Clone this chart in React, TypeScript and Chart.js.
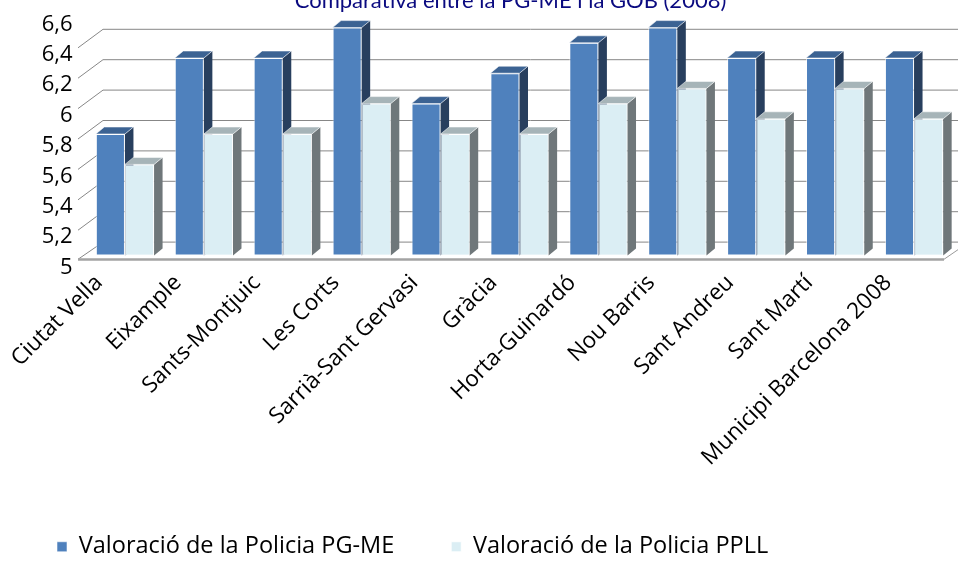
import React, { useEffect, useRef } from 'react';
import { Chart, registerables } from 'chart.js';
Chart.register(...registerables);

const chartTitle = 'Comparativa entre la PG-ME i la GOB (2008)';
const categories = [
  'Ciutat Vella',
  'Eixample',
  'Sants-Montjuic',
  'Les Corts',
  'Sarrià-Sant Gervasi',
  'Gràcia',
  'Horta-Guinardó',
  'Nou Barris',
  'Sant Andreu',
  'Sant Martí',
  'Municipi Barcelona 2008',
];
const seriesNames = ['Valoració de la Policia PG-ME', 'Valoració de la Policia PPLL'];
const pgmeValues = [5.8, 6.3, 6.3, 6.5, 6.0, 6.2, 6.4, 6.5, 6.3, 6.3, 6.3];
const ppllValues = [5.6, 5.8, 5.8, 6.0, 5.8, 5.8, 6.0, 6.1, 5.9, 6.1, 5.9];
const yMin = 5;
const yMax = 6.6;
const yStep = 0.2;
const gridValues = [5.0, 5.2, 5.4, 5.6, 5.8, 6.0, 6.2, 6.4];

const FONT = '"Open Sans", Lato, sans-serif';
const TITLE_FONT = 'Lato, "Open Sans", sans-serif';
const DX = 8.5;
const DY = -7;

const faceColors = [
  { side: '#283F5E', top: '#3C6393' },
  { side: '#6F777A', top: '#A6B4B8' },
];

function drawFaces(ctx: CanvasRenderingContext2D, el: any, colors: { side: string; top: string }, floorY: number) {
  const p = el.getProps(['x', 'y', 'base', 'width'], true);
  const left = p.x - p.width / 2;
  const right = p.x + p.width / 2;
  const top = p.y;
  const bottom = Math.min(p.base, floorY);
  ctx.save();
  ctx.strokeStyle = 'rgba(255,255,255,0.55)';
  ctx.lineWidth = 1;
  ctx.beginPath();
  ctx.moveTo(right, top);
  ctx.lineTo(right + DX, top + DY);
  ctx.lineTo(right + DX, bottom + DY);
  ctx.lineTo(right, bottom);
  ctx.closePath();
  ctx.fillStyle = colors.side;
  ctx.fill();
  ctx.beginPath();
  ctx.moveTo(left, top);
  ctx.lineTo(right, top);
  ctx.lineTo(right + DX, top + DY);
  ctx.lineTo(left + DX, top + DY);
  ctx.closePath();
  ctx.fillStyle = colors.top;
  ctx.fill();
  ctx.stroke();
  ctx.restore();
}

const wallsPlugin = {
  id: 'walls3d',
  beforeDatasetsDraw(chart: any) {
    const { ctx, chartArea } = chart;
    const y = chart.scales.y;
    const frontX = chartArea.left - 7.5;
    const backX = chartArea.left + 17.5;
    const rightX = chart.width;
    ctx.save();
    ctx.strokeStyle = '#878787';
    ctx.lineWidth = 1;
    gridValues.forEach((v) => {
      const py = y.getPixelForValue(v);
      const back = py - 13.5;
      ctx.beginPath();
      ctx.moveTo(backX, back);
      ctx.lineTo(rightX, back);
      ctx.stroke();
      ctx.beginPath();
      ctx.moveTo(frontX, v === yMin ? py + 3.7 : py + 5);
      ctx.lineTo(backX, back);
      ctx.stroke();
    });
    const f = y.getPixelForValue(yMin);
    const floorRight = chartArea.right - 9.5;
    ctx.strokeStyle = '#A3A3A3';
    ctx.lineWidth = 2.4;
    ctx.beginPath();
    ctx.moveTo(frontX, f + 3.9);
    ctx.lineTo(floorRight, f + 3.9);
    ctx.stroke();
    ctx.lineWidth = 1;
    ctx.strokeStyle = '#9A9A9A';
    ctx.beginPath();
    ctx.moveTo(floorRight, f + 3.7);
    ctx.lineTo(floorRight + 25, f - 13.5);
    ctx.stroke();
    ctx.restore();
  },
  afterDatasetsDraw(chart: any) {
    const ctx = chart.ctx;
    const floorY = chart.scales.y.getPixelForValue(yMin);
    const m0 = chart.getDatasetMeta(0);
    const m1 = chart.getDatasetMeta(1);
    for (let i = 0; i < categories.length; i++) {
      drawFaces(ctx, m0.data[i], faceColors[0], floorY);
      m1.data[i].draw(ctx);
      drawFaces(ctx, m1.data[i], faceColors[1], floorY);
    }
  },
  afterDraw(chart: any) {
    const ctx = chart.ctx;
    ctx.save();
    ctx.font = `22px ${TITLE_FONT}`;
    ctx.fillStyle = '#0A0A80';
    ctx.textAlign = 'center';
    ctx.textBaseline = 'alphabetic';
    ctx.fillText(chartTitle, 510.5, 8);
    ctx.restore();
  },
};

function fmt(v: number) {
  return String(Number(Number(v).toFixed(1))).replace('.', ',');
}

export default function App() {
  const ref = useRef<HTMLCanvasElement>(null);
  useEffect(() => {
    if (!ref.current) return;
    const chart = new Chart(ref.current, {
      type: 'bar',
      data: {
        labels: categories,
        datasets: [
          {
            label: seriesNames[0],
            data: pgmeValues,
            base: yMin,
            backgroundColor: '#4F81BD',
            borderColor: 'rgba(255,255,255,0.55)',
            borderWidth: 1,
            borderSkipped: false,
            categoryPercentage: 0.738,
            barPercentage: 1,
          },
          {
            label: seriesNames[1],
            data: ppllValues,
            base: yMin,
            backgroundColor: '#DBEEF4',
            borderColor: 'rgba(255,255,255,0.8)',
            borderWidth: 1,
            borderSkipped: false,
            categoryPercentage: 0.738,
            barPercentage: 1,
          },
        ],
      },
      options: {
        responsive: false,
        animation: false,
        devicePixelRatio: 1,
        layout: { padding: { top: 12.4, right: 4.5, left: 0, bottom: -1.5 } },
        plugins: {
          title: { display: false },
          tooltip: { enabled: false },
          legend: {
            position: 'bottom',
            align: 'start',
            labels: {
              boxWidth: 10,
              boxHeight: 10,
              padding: 57,
              color: '#000',
              font: { family: FONT, size: 23.5 },
            },
          },
        },
        scales: {
          x: {
            grid: { display: false, drawTicks: false },
            border: { display: false },
            ticks: {
              minRotation: 45,
              maxRotation: 45,
              autoSkip: false,
              labelOffset: -26,
              padding: 14,
              color: '#000',
              font: { family: FONT, size: 22.5 },
            },
            afterFit: (s: any) => {
              s.height = 222.4;
            },
          },
          y: {
            min: yMin,
            max: yMax,
            grid: { display: false, drawTicks: false },
            border: { display: false },
            ticks: {
              stepSize: yStep,
              autoSkip: false,
              labelOffset: 12,
              padding: 13,
              color: '#000',
              font: { family: FONT, size: 22 },
              callback: (v: any) => fmt(v),
            },
            afterFit: (s: any) => {
              s.width = 85.5;
              s.paddingTop = 0;
              s.paddingBottom = 0;
            },
          },
        },
      },
      plugins: [wallsPlugin],
    });
    return () => chart.destroy();
  }, []);
  return (
    <div style={{ position: 'absolute', left: 0, top: 0, width: 958, height: 567 }}>
      <canvas ref={ref} width={958} height={567} />
    </div>
  );
}
